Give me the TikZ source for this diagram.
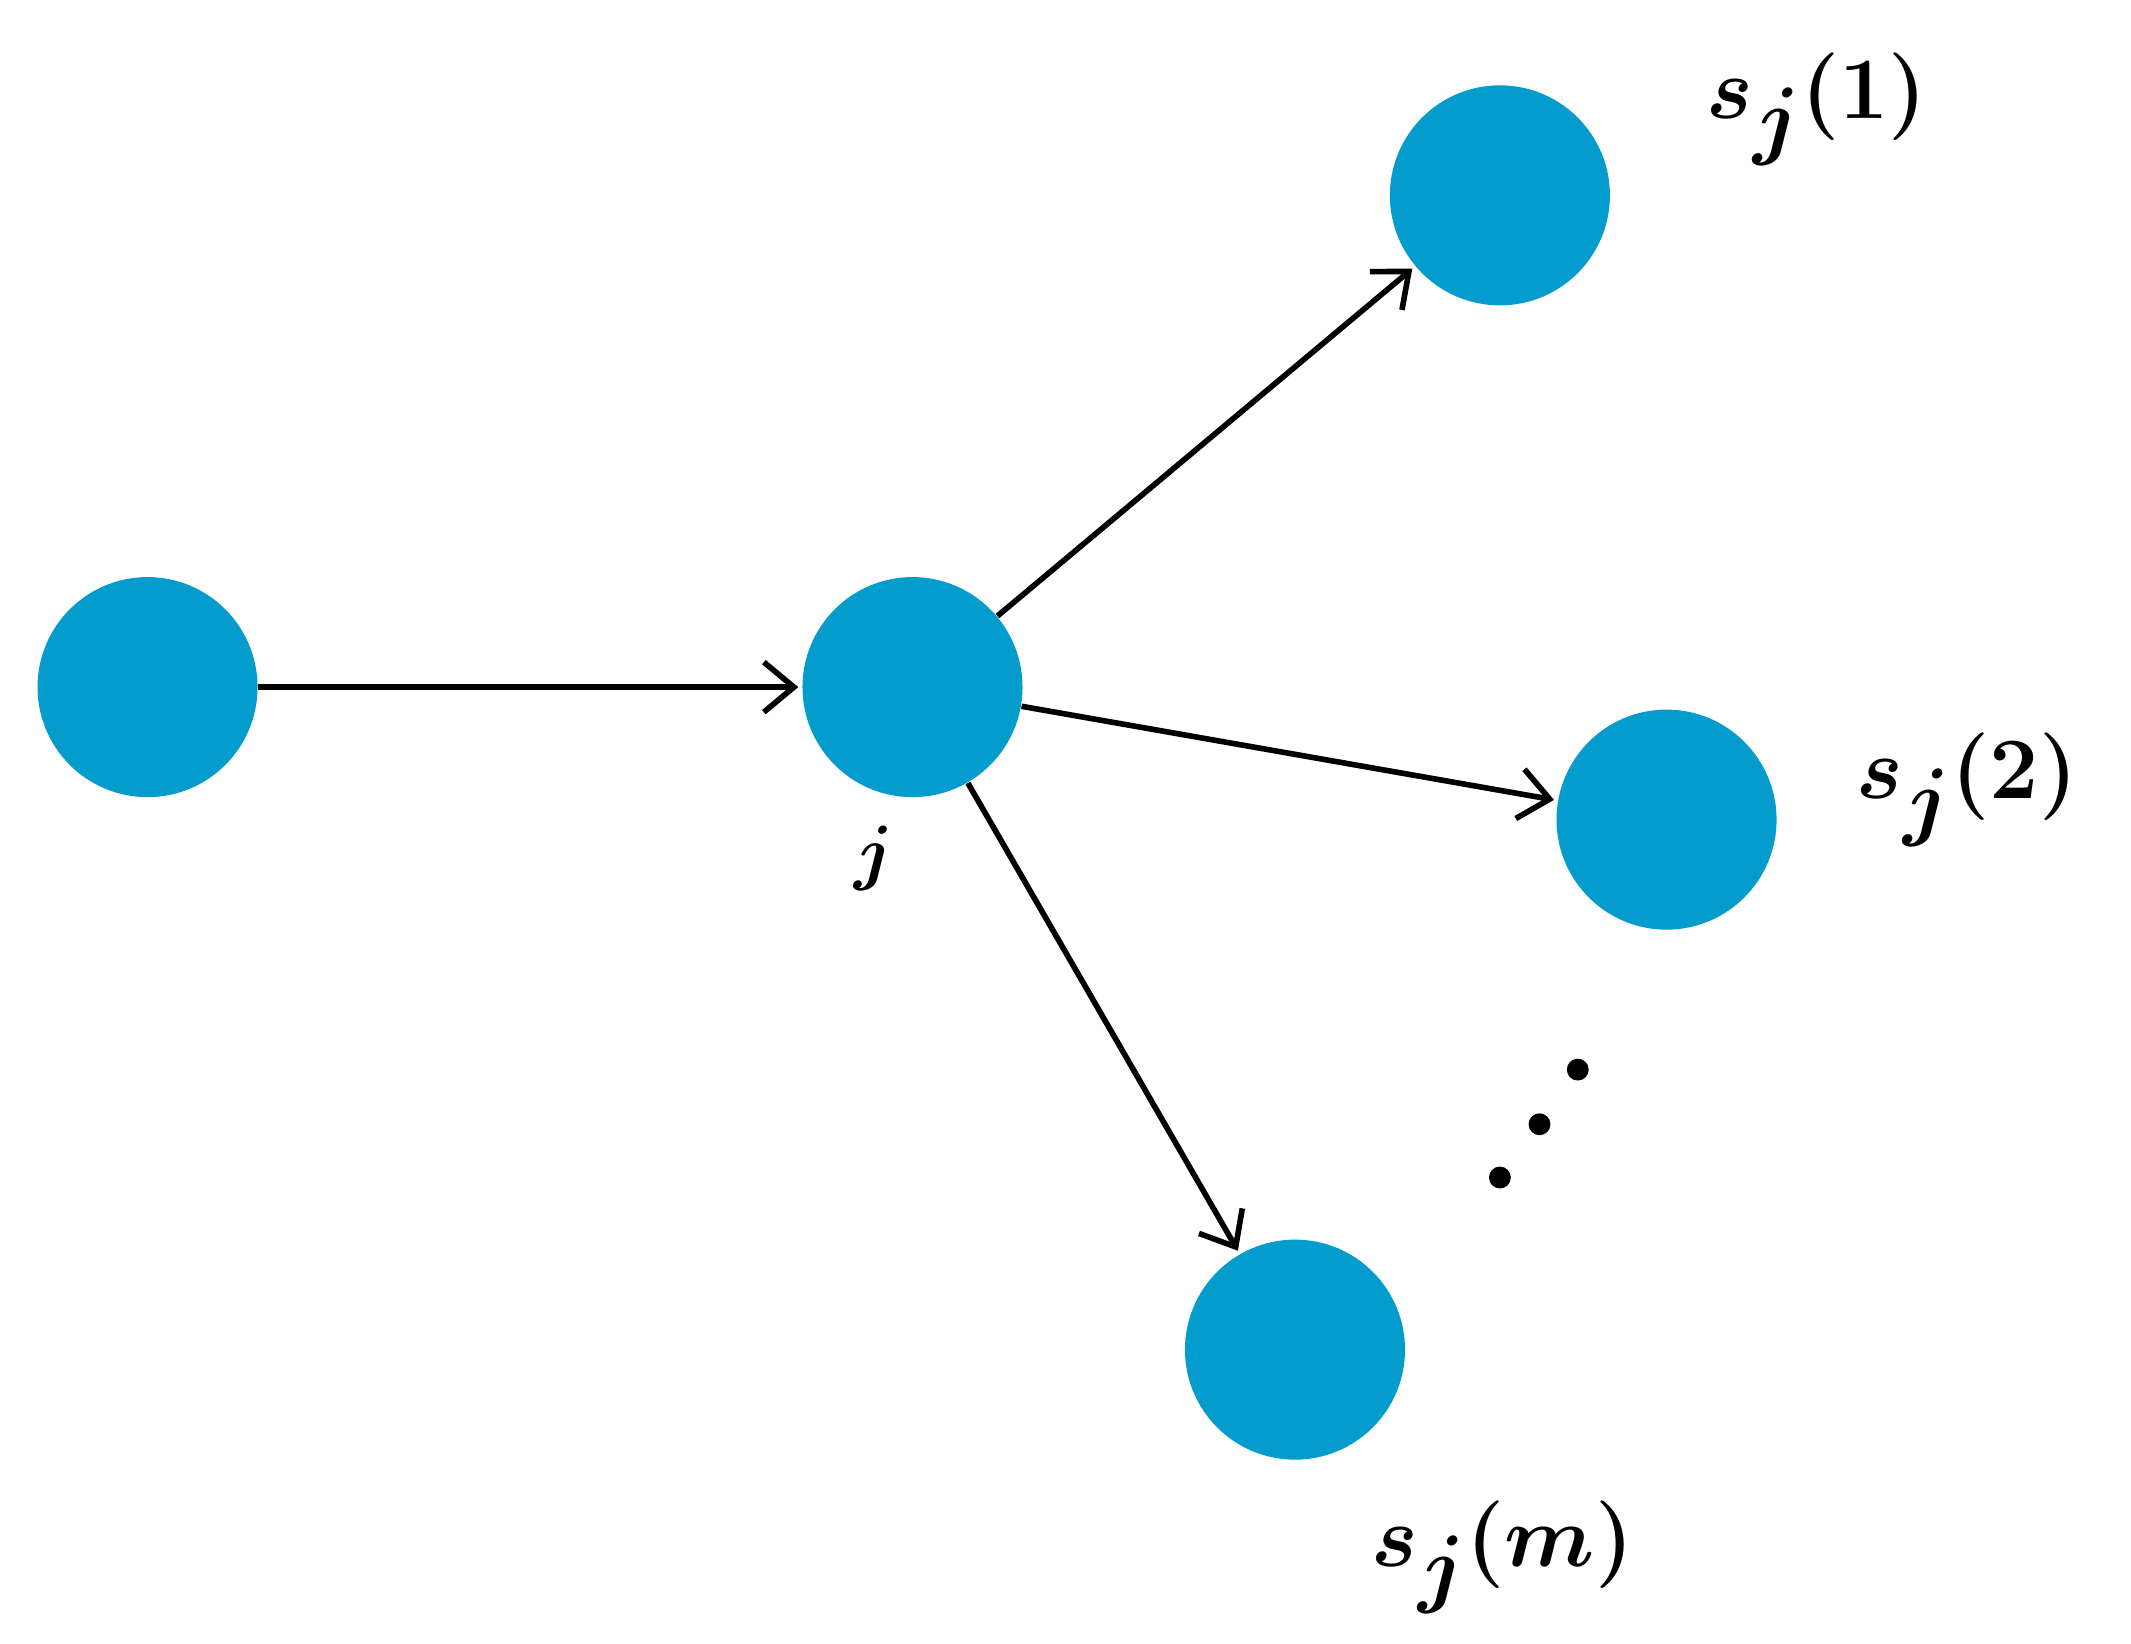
\documentclass[tikz,border=0pt]{standalone}
\usepackage{amsmath,bm}
\usetikzlibrary{arrows.meta}
\definecolor{nodeblue}{HTML}{049BCD}
\begin{document}
\begin{tikzpicture}[x=0.01366cm,y=-0.01366cm,
  dot/.style={circle,fill=nodeblue,minimum size=2.2cm,inner sep=0pt},
  arr/.style={-{Straight Barb[length=0.3cm,width=0.5cm,line width=1.6pt]},line width=1.6pt,shorten >=1pt},
  lab/.style={font=\fontsize{36}{40}\selectfont}]
\useasboundingbox (0,0) rectangle (1560,1203);
\node[dot] (a) at (108,503) {};
\node[dot] (j) at (668,503) {};
\node[dot] (s1) at (1098,143) {};
\node[dot] (s2) at (1220,600) {};
\node[dot] (sm) at (948,988) {};
\draw[arr] (a) -- (j);
\draw[arr] (j) -- (s1);
\draw[arr] (j) -- (s2);
\draw[arr] (j) -- (sm);
\node[font=\fontsize{20}{22}\selectfont] (jl) at (640,628) {$\bm{j}$};
\node[lab] (l1) at (1330,80) {$\bm{s_j(1)}$};
\node[lab] (l2) at (1440,578) {$\bm{s_j(2)}$};
\node[lab] (lm) at (1100,1140) {$\bm{s_j(m)}$};
\fill (1098,862) circle (8) (1127,823) circle (8) (1155,783) circle (8);
\end{tikzpicture}
\end{document}
